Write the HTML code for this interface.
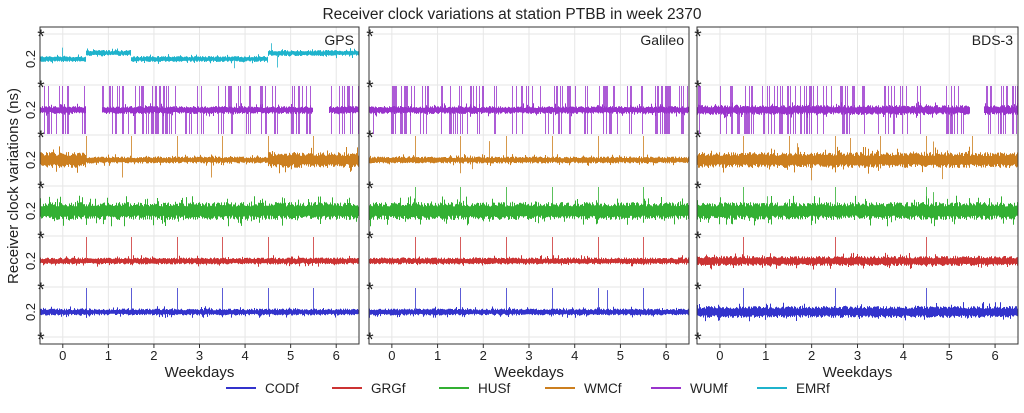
<!DOCTYPE html>
<html><head><meta charset="utf-8"><style>
body{margin:0;background:#fff;}
svg text{font-family:"Liberation Sans","DejaVu Sans",sans-serif;fill:#222;}
</style></head><body>
<svg id="s" width="1024" height="408" xmlns="http://www.w3.org/2000/svg">
<text x="512" y="19" font-size="15.5" text-anchor="middle">Receiver clock variations at station PTBB in week 2370</text>
<text transform="translate(18,186) rotate(-90)" font-size="15" text-anchor="middle">Receiver clock variations (ns)</text>
<g id="g"></g>
<g font-size="13.5">
<line x1="226" y1="388" x2="256" y2="388" stroke="#3333cc" stroke-width="2"/><text x="265" y="393">CODf</text>
<line x1="332" y1="388" x2="362" y2="388" stroke="#cc3333" stroke-width="2"/><text x="371" y="393">GRGf</text>
<line x1="439" y1="388" x2="469" y2="388" stroke="#33b033" stroke-width="2"/><text x="478" y="393">HUSf</text>
<line x1="545" y1="388" x2="575" y2="388" stroke="#cc7f1f" stroke-width="2"/><text x="584" y="393">WMCf</text>
<line x1="651" y1="388" x2="681" y2="388" stroke="#9933cc" stroke-width="2"/><text x="690" y="393">WUMf</text>
<line x1="757" y1="388" x2="787" y2="388" stroke="#1fb3cc" stroke-width="2"/><text x="796" y="393">EMRf</text>
</g>
</svg>
<script>
var seed=12345;function r(){seed=(seed*1103515245+12345)%2147483648;return seed/2147483648;}
function e(){var v=0.5+0.5*r();if(r()<0.08)v*=1.7;return v;}
var g=document.getElementById('g');var h='';
var P=[[40,359,'GPS'],[369,689,'Galileo'],[697,1018,'BDS-3']];
var stars=[34,85,135,186,236,287,337];
var C={cy:'#1fb3cc',pu:'#9933cc',or:'#cc7f1f',gr:'#33b033',re:'#cc3333',bl:'#3333cc'};
function cfg(p){
 if(p==0)return[
  ['cy',0,function(d){return 3},0.01,[],function(d){return d<0.5?0:(d<1.5?-6:(d<4.5?0:-6))}],
  ['pu',1,function(d){return 4},0.3,[[0.5,0.85],[5.5,5.85]]],
  ['or',2,function(d){return (d<0.5||d>4.5)?8:3.5},0.005,[]],
  ['gr',3,function(d){return 9},0.004,[]],
  ['re',4,function(d){return 3.5},0,[]],
  ['bl',5,function(d){return 3.5},0,[]]];
 if(p==1)return[
  ['pu',1,function(d){return 4},0.35,[]],
  ['or',2,function(d){return 3.5},0.005,[]],
  ['gr',3,function(d){return 9},0.005,[]],
  ['re',4,function(d){return 3.5},0,[]],
  ['bl',5,function(d){return 3.5},0.004,[]]];
 return[
  ['pu',1,function(d){return 5},0.35,[[5.45,5.75]]],
  ['or',2,function(d){return 8},0.01,[]],
  ['gr',3,function(d){return 9},0.006,[]],
  ['re',4,function(d){return 5},0.006,[]],
  ['bl',5,function(d){return 6},0.008,[]]];
}
for(var p=0;p<3;p++){
 var x0=P[p][0],x1=P[p][1],w=x1-x0;
 function X(d){return x0+(d+0.5)*w/7;}
 for(var k=0;k<7;k++){h+='<line x1="'+X(k)+'" y1="27" x2="'+X(k)+'" y2="344" stroke="#e6e6e6"/>';
  h+='<line x1="'+X(k)+'" y1="344" x2="'+X(k)+'" y2="348" stroke="#333"/>';
  h+='<text x="'+X(k)+'" y="360" font-size="13" text-anchor="middle">'+k+'</text>';}
 stars.forEach(function(y){h+='<line x1="'+x0+'" y1="'+y+'" x2="'+x1+'" y2="'+y+'" stroke="#e6e6e6"/>';
  h+='<text x="'+(x0+1)+'" y="'+(y+9)+'" font-size="19" text-anchor="middle">*</text>';});
 cfg(p).forEach(function(s){
  var base=stars[s[1]]+25,top=stars[s[1]],bot=stars[s[1]+1],col=C[s[0]];
  var d='',sp='';var burst=0;
  for(var i=0;i<w;i++){var x=x0+0.5+i,dd=(x-x0)/w*7-0.5;
   var gap=s[4].some(function(q){return dd>q[0]&&dd<q[1];});
   if(gap)continue;
   var off=s[5]?s[5](dd):0,a=s[2](dd);
   var y1=base+off-a*e(),y2=base+off+a*e();
   d+='M'+x+' '+y1.toFixed(1)+'V'+y2.toFixed(1);
   var pr=s[3];
   if(s[0]=='pu'){if(burst>0){burst--;}else if(r()<0.1){burst=3+Math.floor(r()*7);} pr=burst>0?0.75:0.15;}
   if(r()<pr){var yy,ys=base+off;
    if(s[0]=='pu'){var t=r();if(t<0.3){ys=top+1;yy=bot-1;}else if(t<0.6){yy=top+1;}else{yy=bot-1;}}
    else{var up=r()<0.5;yy=up?top+3+r()*15:bot-3-r()*15;}
    sp+='M'+x+' '+ys+'V'+yy.toFixed(1);}
  }
  if(s[0]=='re'||s[0]=='bl'||s[0]=='or'||s[0]=='gr'){for(var k=0;k<6;k++){if(p==2&&s[0]!='or'&&k%2)continue;var x=Math.round(X(k+0.5))+0.5;sp+='M'+x+' '+base+'V'+(s[0]=='gr'&&p==0?base:top+1);}}
  h+='<path d="'+sp+'" stroke="'+col+'" stroke-width="1" opacity="0.8" fill="none"/>';
  h+='<path d="'+d+'" stroke="'+col+'" stroke-width="1" fill="none"/>';
 });
 h+='<rect x="'+x0+'" y="27" width="'+w+'" height="317" fill="none" stroke="#333" stroke-width="1"/>';
 h+='<text x="'+(x1-5)+'" y="45" font-size="14" text-anchor="end">'+P[p][2]+'</text>';
 h+='<text x="'+(x0+w/2)+'" y="377" font-size="15" text-anchor="middle">Weekdays</text>';
 if(p==0){for(var b=0;b<6;b++){var y=stars[b]+25;h+='<text transform="translate(35,'+y+') rotate(-90)" font-size="13" text-anchor="middle">0.2</text>';}}
}
g.innerHTML=h;
</script>
</body></html>
